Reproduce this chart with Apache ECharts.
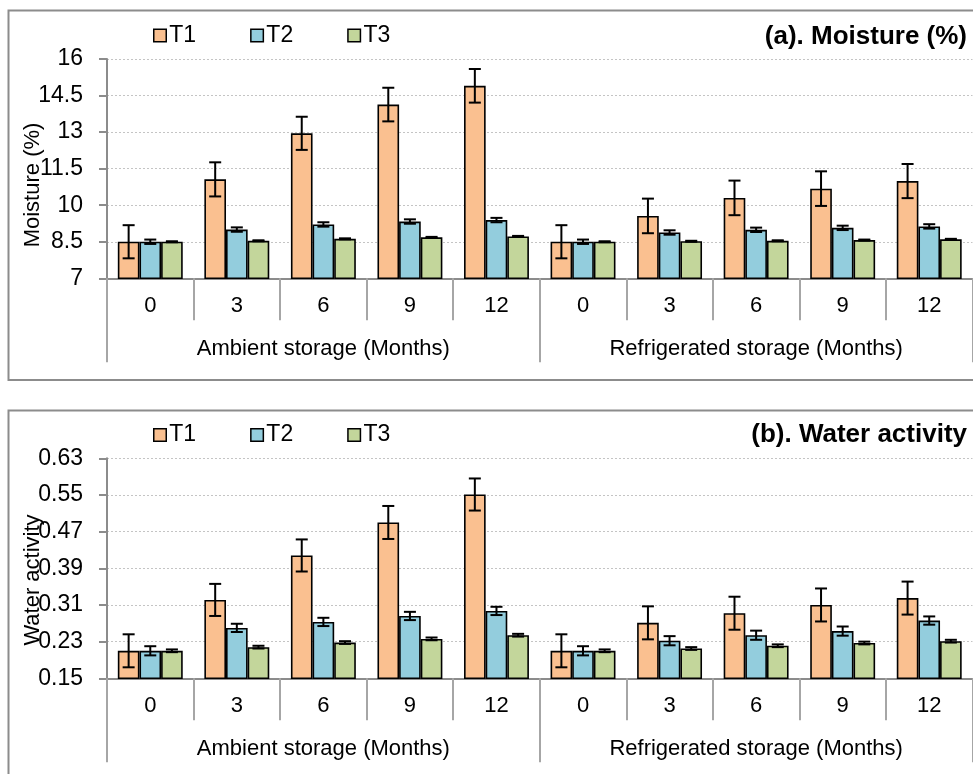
<!DOCTYPE html>
<html>
<head>
<meta charset="utf-8">
<script src="https://cdn.jsdelivr.net/npm/echarts@6/dist/echarts.min.js"></script>
<style>html,body{margin:0;padding:0;background:#fff}#c{width:973px;height:774px}</style>
</head>
<body>
<div id="c"></div>
<script>
// ---- data ----
var categories = ['0', '3', '6', '9', '12', '0', '3', '6', '9', '12'];
var groups = ['Ambient storage (Months)', 'Refrigerated storage (Months)'];
var seriesNames = ['T1', 'T2', 'T3'];

var moistureT1 = [8.5, 11.06, 12.95, 14.13, 14.9, 8.5, 9.56, 10.3, 10.68, 10.99];
var moistureT2 = [8.5, 9.0, 9.21, 9.33, 9.39, 8.5, 8.88, 8.99, 9.07, 9.13];
var moistureT3 = [8.5, 8.54, 8.62, 8.68, 8.72, 8.5, 8.52, 8.54, 8.57, 8.6];
var moistureErrT1 = [0.68, 0.7, 0.68, 0.69, 0.69, 0.68, 0.71, 0.71, 0.71, 0.7];
var moistureErrT2 = [0.09, 0.09, 0.09, 0.09, 0.09, 0.09, 0.09, 0.09, 0.09, 0.09];
var moistureErrT3 = [0.02, 0.02, 0.02, 0.02, 0.02, 0.02, 0.02, 0.02, 0.02, 0.02];

var awT1 = [0.21, 0.321, 0.418, 0.49, 0.551, 0.21, 0.271, 0.292, 0.31, 0.325];
var awT2 = [0.21, 0.26, 0.273, 0.286, 0.297, 0.21, 0.232, 0.244, 0.253, 0.276];
var awT3 = [0.21, 0.218, 0.228, 0.236, 0.244, 0.21, 0.215, 0.221, 0.227, 0.231];
var awErrT1 = [0.036, 0.035, 0.035, 0.036, 0.035, 0.036, 0.036, 0.036, 0.036, 0.036];
var awErrT2 = [0.01, 0.009, 0.009, 0.009, 0.009, 0.01, 0.01, 0.01, 0.01, 0.009];
var awErrT3 = [0.003, 0.003, 0.003, 0.003, 0.003, 0.003, 0.003, 0.003, 0.003, 0.003];

var moistureTicks = {min: 7, max: 16, interval: 1.5};
var awTicks = {min: 0.15, max: 0.63, interval: 0.08};

// ---- styles ----
var FONT = 'Liberation Sans, Arial, sans-serif';
var colors = ['#FAC090', '#93CDDD', '#C3D69B'];
var axisGray = '#8c8c8c';
var BAR_FRACTION = 0.75;

var chart = echarts.init(document.getElementById('c'), null, {renderer: 'canvas'});

function makeXAxes(gridIndex) {
  return [
    {
      type: 'category', gridIndex: gridIndex, data: categories, position: 'bottom',
      axisLine: {show: true, lineStyle: {color: axisGray, width: 2}},
      axisTick: {show: true, interval: 0, length: 42, lineStyle: {color: '#a6a6a6', width: 2}},
      axisLabel: {interval: 0, margin: 17, fontSize: 22, color: '#000', fontFamily: FONT},
      splitLine: {show: false}
    },
    {
      type: 'category', gridIndex: gridIndex, data: groups, position: 'bottom',
      axisLine: {show: false},
      axisTick: {show: true, interval: 0, length: 84, lineStyle: {color: '#a6a6a6', width: 2}},
      axisLabel: {interval: 0, margin: 60, fontSize: 22, color: '#000', fontFamily: FONT},
      splitLine: {show: false}
    }
  ];
}

function makeYAxis(gridIndex, ticks, fmt) {
  return {
    type: 'value', gridIndex: gridIndex, min: ticks.min, max: ticks.max, interval: ticks.interval,
    axisLine: {show: true, lineStyle: {color: axisGray, width: 2}},
    axisTick: {show: true, length: 8, lineStyle: {color: axisGray, width: 2}},
    axisLabel: {margin: 24, fontSize: 23, color: '#000', fontFamily: FONT, formatter: fmt},
    splitLine: {show: true, lineStyle: {color: '#c4c4c4', width: 1, type: [2, 2]}}
  };
}

function barSeries(name, data, k, xIdx, yIdx) {
  return {
    name: name, type: 'bar', xAxisIndex: xIdx, yAxisIndex: yIdx, data: data,
    barGap: '0%', barCategoryGap: '25%',
    itemStyle: {color: colors[k], borderColor: '#000', borderWidth: 1.6},
    emphasis: {disabled: true}, z: 2
  };
}

function errSeries(name, vals, errs, k, xIdx, yIdx) {
  var d = vals.map(function (v, i) { return [i, v, errs[i]]; });
  return {
    name: name + ' error', type: 'custom', xAxisIndex: xIdx, yAxisIndex: yIdx, data: d,
    encode: {x: 0, y: 1}, z: 5, silent: true,
    renderItem: function (params, api) {
      var idx = api.value(0), v = api.value(1), e = api.value(2);
      var band = api.size([1, 0])[0];
      var bw = band * BAR_FRACTION / 3;
      var c = api.coord([idx, v]);
      var cx = c[0] + (k - 1) * bw;
      var yt = api.coord([idx, v + e])[1];
      var yb = api.coord([idx, v - e])[1];
      var h = 6;
      var st = {stroke: '#000', lineWidth: 2};
      return {
        type: 'group',
        children: [
          {type: 'line', shape: {x1: cx, y1: yt, x2: cx, y2: yb}, style: st},
          {type: 'line', shape: {x1: cx - h, y1: yt, x2: cx + h, y2: yt}, style: st},
          {type: 'line', shape: {x1: cx - h, y1: yb, x2: cx + h, y2: yb}, style: st}
        ]
      };
    }
  };
}

var xAxes = makeXAxes(0).concat(makeXAxes(1));
var yAxes = [
  makeYAxis(0, moistureTicks, function (v) { return String(Math.round(v * 10) / 10); }),
  makeYAxis(1, awTicks, function (v) { return v.toFixed(2); })
];

var moistureVals = [moistureT1, moistureT2, moistureT3];
var moistureErrs = [moistureErrT1, moistureErrT2, moistureErrT3];
var awVals = [awT1, awT2, awT3];
var awErrs = [awErrT1, awErrT2, awErrT3];

var series = [];
for (var k = 0; k < 3; k++) series.push(barSeries(seriesNames[k], moistureVals[k], k, 0, 0));
for (var k2 = 0; k2 < 3; k2++) series.push(barSeries(seriesNames[k2], awVals[k2], k2, 2, 1));
for (var k3 = 0; k3 < 3; k3++) series.push(errSeries(seriesNames[k3] + 'a', moistureVals[k3], moistureErrs[k3], k3, 0, 0));
for (var k4 = 0; k4 < 3; k4++) series.push(errSeries(seriesNames[k4] + 'b', awVals[k4], awErrs[k4], k4, 2, 1));

function legend(top) {
  return {
    data: seriesNames, left: 153, top: top, orient: 'horizontal',
    icon: 'rect', itemWidth: 12.5, itemHeight: 12.5, itemGap: 54, padding: 0,
    selectedMode: false,
    textStyle: {fontSize: 23, color: '#000', fontFamily: FONT, padding: [0, 0, 0, -2]},
    itemStyle: {borderColor: '#000', borderWidth: 1.5}
  };
}

var option = {
  animation: false,
  backgroundColor: '#fff',
  textStyle: {fontFamily: FONT},
  title: [
    {text: '(a). Moisture (%)', right: 6, top: 24, padding: 0,
     textStyle: {fontSize: 26, fontWeight: 'bold', color: '#000', fontFamily: FONT}},
    {text: '(b). Water activity', right: 6, top: 422, padding: 0,
     textStyle: {fontSize: 26, fontWeight: 'bold', color: '#000', fontFamily: FONT}}
  ],
  legend: [legend(24), legend(423.5)],
  grid: [
    {left: 107, top: 59, width: 865.5, height: 219.3, containLabel: false},
    {left: 107, top: 458.3, width: 865.5, height: 220, containLabel: false}
  ],
  xAxis: xAxes,
  yAxis: yAxes,
  series: series,
  graphic: [
    {type: 'rect', shape: {x: 8.5, y: 10.5, width: 990, height: 369.5},
     style: {fill: 'none', stroke: axisGray, lineWidth: 2}, z: -1, silent: true},
    {type: 'rect', shape: {x: 8.5, y: 410.5, width: 990, height: 400},
     style: {fill: 'none', stroke: axisGray, lineWidth: 2}, z: -1, silent: true},
    {type: 'text', x: 33, y: 185, rotation: Math.PI / 2, silent: true,
     style: {text: 'Moisture (%)', fontSize: 22, fontFamily: FONT, fill: '#000', textAlign: 'center', textVerticalAlign: 'middle'}},
    {type: 'text', x: 33, y: 580, rotation: Math.PI / 2, silent: true,
     style: {text: 'Water activity', fontSize: 22, fontFamily: FONT, fill: '#000', textAlign: 'center', textVerticalAlign: 'middle'}}
  ]
};

chart.setOption(option);
</script>
</body>
</html>
